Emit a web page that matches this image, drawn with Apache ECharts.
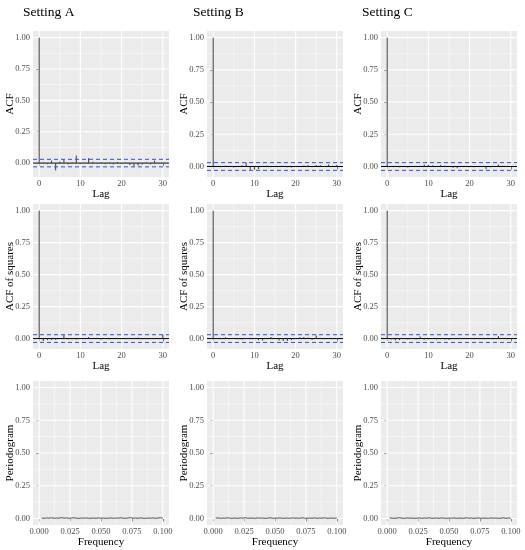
<!DOCTYPE html>
<html><head><meta charset="utf-8">
<script src="https://cdn.jsdelivr.net/npm/echarts@6/dist/echarts.min.js"></script>
<style>html,body{margin:0;padding:0;background:#fff}#c{width:525px;height:550px}</style>
</head><body><div id="c"></div>
<script>
// ---------- data ----------
const settingTitles = ['Setting A', 'Setting B', 'Setting C'];
const rowYTitles = ['ACF', 'ACF of squares', 'Periodogram'];
const lags = [0,1,2,3,4,5,6,7,8,9,10,11,12,13,14,15,16,17,18,19,20,21,22,23,24,25,26,27,28,29,30];

const acfA = [1, 0.005, -0.008, 0.02, -0.058, 0.012, 0.03, -0.01, 0.004, 0.06, -0.006, 0.003, 0.04, 0.01, -0.005, 0.006, -0.008, 0.005, -0.01, 0.008, -0.006, 0.004, -0.015, -0.025, -0.02, -0.012, 0.006, -0.01, 0.02, -0.004, 0.003];
const acfB = [1, 0.004, -0.003, 0.006, -0.004, -0.008, 0.003, 0.01, 0.03, -0.025, -0.025, -0.02, 0.004, 0.006, -0.005, 0.003, -0.004, 0.005, -0.006, -0.008, 0.004, -0.003, 0.008, 0.01, -0.005, 0.012, 0.01, -0.004, 0.015, 0.005, 0.012];
const acfC = [1, 0.003, -0.004, -0.006, 0.002, -0.008, 0.004, -0.003, 0.005, 0.014, 0.012, 0.008, -0.004, 0.012, 0.006, -0.003, -0.01, -0.014, -0.004, 0.003, -0.005, -0.006, 0.004, -0.003, -0.02, -0.006, 0.003, 0.015, 0.006, -0.004, 0.003];

const acfSqA = [1, -0.02, -0.012, -0.01, -0.01, 0.002, 0.028, -0.006, -0.005, -0.008, 0.003, -0.004, 0.012, -0.003, 0.006, -0.008, 0.004, -0.006, -0.004, 0.005, -0.003, 0.002, -0.004, 0.003, 0.008, -0.006, -0.005, -0.004, -0.003, 0.004, 0.03];
const acfSqB = [1, 0.004, -0.003, 0.01, -0.004, 0.003, -0.005, -0.008, 0.004, 0.006, -0.003, -0.012, -0.015, 0.003, 0.012, -0.004, -0.015, -0.02, -0.018, -0.012, 0.005, 0.01, 0.012, 0.008, -0.01, 0.025, 0.006, -0.004, 0.003, -0.003, 0.002];
const acfSqC = [1, -0.006, -0.015, -0.012, -0.004, -0.008, 0.004, -0.006, 0.016, -0.008, -0.006, 0.004, -0.007, -0.005, -0.008, -0.01, 0.003, -0.003, 0.004, -0.002, 0.003, -0.004, 0.002, 0.003, -0.003, 0.004, -0.002, 0.02, 0.006, -0.004, 0.002];

const freqs = [0.002,0.004,0.006,0.008,0.010,0.012,0.014,0.016,0.018,0.020,0.022,0.024,0.026,0.028,0.030,0.032,0.034,0.036,0.038,0.040,0.042,0.044,0.046,0.048,0.050,0.052,0.054,0.056,0.058,0.060,0.062,0.064,0.066,0.068,0.070,0.072,0.074,0.076,0.078,0.080,0.082,0.084,0.086,0.088,0.090,0.092,0.094,0.096,0.098,0.100];
const perA = [0.003,0.001,0.004,0.002,0.005,0.001,0.003,0.002,0.006,0.002,0.004,0.001,0.003,0.005,0.002,0.001,0.003,0.002,0.004,0.001,0.002,0.003,0.001,0.004,0.002,0.003,0.001,0.002,0.004,0.001,0.003,0.002,0.005,0.001,0.002,0.003,0.006,0.002,0.003,0.001,0.004,0.002,0.001,0.003,0.002,0.004,0.001,0.003,0.005,0.002];
const perB = [0.002,0.004,0.001,0.003,0.002,0.005,0.001,0.002,0.003,0.001,0.004,0.002,0.006,0.001,0.003,0.002,0.001,0.004,0.002,0.003,0.001,0.002,0.005,0.001,0.003,0.002,0.004,0.001,0.002,0.003,0.001,0.004,0.002,0.003,0.001,0.005,0.002,0.001,0.003,0.002,0.004,0.001,0.003,0.002,0.005,0.001,0.002,0.003,0.001,0.004];
const perC = [0.004,0.002,0.001,0.003,0.005,0.002,0.001,0.004,0.002,0.003,0.001,0.002,0.004,0.001,0.003,0.002,0.005,0.001,0.002,0.003,0.001,0.004,0.002,0.001,0.003,0.002,0.004,0.001,0.003,0.002,0.001,0.005,0.002,0.003,0.001,0.002,0.004,0.001,0.003,0.002,0.001,0.004,0.002,0.003,0.001,0.002,0.005,0.001,0.003,0.002];

const ciBound = 0.03;
const lagTicks = [0, 10, 20, 30];
const lagMinor = [5, 15, 25];
const freqTicks = [0, 0.025, 0.05, 0.075, 0.1];
const freqMinor = [0.0125, 0.0375, 0.0625, 0.0875];
const yTicks = [0, 0.25, 0.5, 0.75, 1];
const yMinor = [0.125, 0.375, 0.625, 0.875];

const panelValues = [[acfA, acfB, acfC], [acfSqA, acfSqB, acfSqC], [perA, perB, perC]];

// ---------- layout ----------
const FONT = "'Liberation Serif', 'DejaVu Serif', serif";
const colLeft = [33, 207, 381];
const panelW = 136;
const rowTop = [31, 204, 381];
const rowH = [146, 145, 144];
const titleLeft = [23, 193, 362];

const grids = [], xAxes = [], yAxes = [], series = [];

function vLines(idx, xs, yMin, yMax, width, z) {
  return {
    type: 'custom', xAxisIndex: idx, yAxisIndex: idx, z: z, silent: true,
    data: xs.map(v => [v, yMin]),
    renderItem: (p, api) => {
      const a = api.coord([api.value(0), yMin]);
      const b = api.coord([api.value(0), yMax]);
      return { type: 'line', shape: { x1: a[0], y1: a[1], x2: b[0], y2: b[1] }, style: { stroke: '#FFFFFF', lineWidth: width } };
    }
  };
}
function hLines(idx, ys, xMin, xMax, style, z) {
  return {
    type: 'custom', xAxisIndex: idx, yAxisIndex: idx, z: z, silent: true,
    data: ys.map(v => [xMin, v]),
    renderItem: (p, api) => {
      const a = api.coord([xMin, api.value(1)]);
      const b = api.coord([xMax, api.value(1)]);
      return { type: 'line', shape: { x1: a[0], y1: a[1], x2: b[0], y2: b[1] }, style: Object.assign({}, style) };
    }
  };
}

for (let r = 0; r < 3; r++) {
  for (let c = 0; c < 3; c++) {
    const idx = r * 3 + c;
    const vals = panelValues[r][c];
    const isPer = r === 2;
    let xMin, xMax, yMin, yMax;
    if (isPer) {
      const lo = 0, hi = 1;
      yMin = lo - 0.05 * (hi - lo); yMax = hi + 0.05 * (hi - lo);
      const fl = 0, fh = 0.1;
      xMin = fl - 0.05 * (fh - fl); xMax = fh + 0.05 * (fh - fl);
    } else {
      const lo = Math.min(...vals, -ciBound), hi = Math.max(...vals, ciBound);
      yMin = lo - 0.05 * (hi - lo); yMax = hi + 0.05 * (hi - lo);
      const ll = lags[0], lh = lags[lags.length - 1];
      xMin = ll - 0.05 * (lh - ll); xMax = lh + 0.05 * (lh - ll);
    }
    grids.push({ left: colLeft[c], top: rowTop[r], width: panelW, height: rowH[r], show: true, backgroundColor: '#EBEBEB', borderWidth: 0 });
    const xT = isPer ? freqTicks : lagTicks;
    const xM = isPer ? freqMinor : lagMinor;
    xAxes.push({
      type: 'value', gridIndex: idx, min: xMin, max: xMax,
      axisLine: { show: false },
      axisTick: { show: true, customValues: xT, length: 3, lineStyle: { color: '#333333', width: 1 } },
      axisLabel: { customValues: xT, formatter: v => isPer ? Number(v).toFixed(3) : String(Math.round(v)), color: '#4D4D4D', fontSize: 8.5, fontFamily: FONT, margin: 2 },
      splitLine: { show: false },
      name: isPer ? 'Frequency' : 'Lag', nameLocation: 'middle', nameGap: 10,
      nameTextStyle: { color: '#000', fontSize: 11, fontFamily: FONT }
    });
    yAxes.push({
      type: 'value', gridIndex: idx, min: yMin, max: yMax,
      axisLine: { show: false },
      axisTick: { show: true, customValues: yTicks, length: 3, lineStyle: { color: '#333333', width: 1 } },
      axisLabel: { customValues: yTicks, formatter: v => Number(v).toFixed(2), color: '#4D4D4D', fontSize: 8.5, fontFamily: FONT, margin: 3 },
      splitLine: { show: false },
      name: rowYTitles[r], nameLocation: 'middle', nameGap: 17, nameMoveOverlap: false,
      nameTextStyle: { color: '#000', fontSize: 11, fontFamily: FONT }
    });
    // grid lines
    series.push(vLines(idx, xM, yMin, yMax, 0.5, 1));
    series.push(vLines(idx, xT, yMin, yMax, 1.1, 1));
    series.push(hLines(idx, yMinor, xMin, xMax, { stroke: '#FFFFFF', lineWidth: 0.5 }, 1));
    series.push(hLines(idx, yTicks, xMin, xMax, { stroke: '#FFFFFF', lineWidth: 1.1 }, 1));
    if (!isPer) {
      series.push(hLines(idx, [0], xMin, xMax, { stroke: '#000000', lineWidth: 1 }, 3));
      series.push(hLines(idx, [ciBound, -ciBound], xMin, xMax, { stroke: '#2F4FE8', lineWidth: 1, lineDash: [4, 3] }, 4));
      series.push({
        type: 'custom', xAxisIndex: idx, yAxisIndex: idx, z: 3, silent: true,
        data: lags.map((l, i) => [l, vals[i]]),
        renderItem: (p, api) => {
          const a = api.coord([api.value(0), 0]);
          const b = api.coord([api.value(0), api.value(1)]);
          return { type: 'line', shape: { x1: a[0], y1: a[1], x2: b[0], y2: b[1] }, style: { stroke: '#3A3A3A', lineWidth: 1 } };
        }
      });
    } else {
      series.push({
        type: 'line', xAxisIndex: idx, yAxisIndex: idx, z: 3, silent: true,
        data: freqs.map((f, i) => [f, vals[i]]),
        showSymbol: false, symbol: 'none',
        lineStyle: { color: '#222222', width: 0.8 }
      });
    }
  }
}

const titles = settingTitles.map((t, c) => ({
  text: t, left: titleLeft[c], top: 5, padding: 0,
  textStyle: { fontFamily: FONT, fontSize: 13.5, fontWeight: 'normal', color: '#000' }
}));

const chart = echarts.init(document.getElementById('c'), null, { renderer: 'canvas' });
chart.setOption({
  animation: false,
  backgroundColor: '#FFFFFF',
  title: titles,
  grid: grids, xAxis: xAxes, yAxis: yAxes, series: series
});
</script></body></html>
